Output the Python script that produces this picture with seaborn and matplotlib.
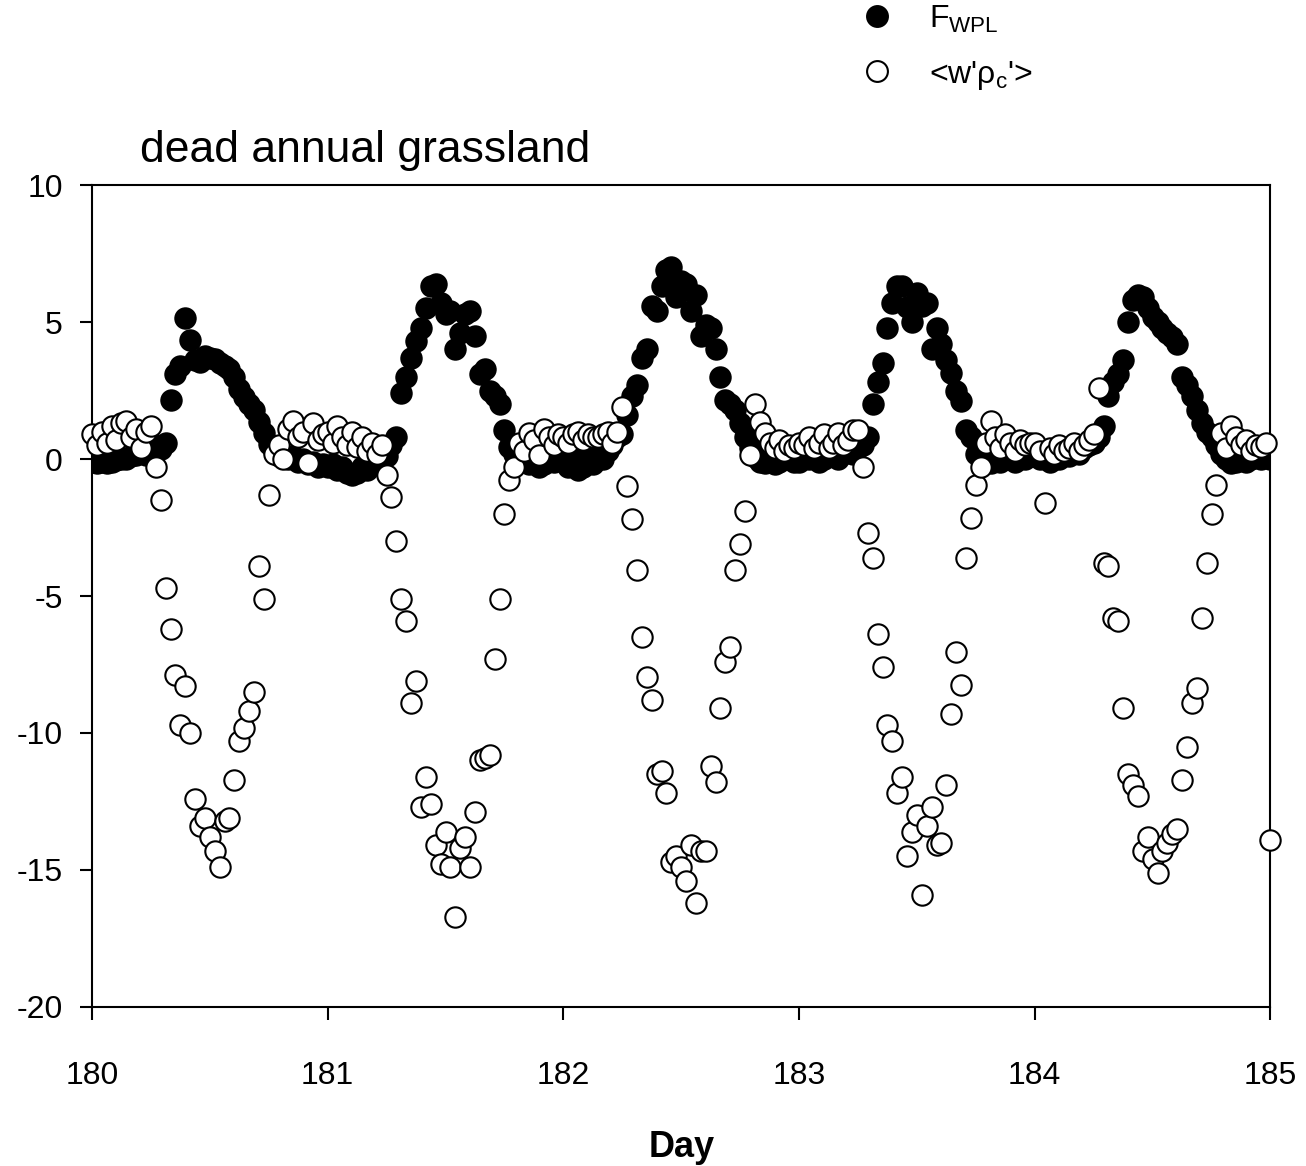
import numpy as np
import pandas as pd
import matplotlib
matplotlib.use("Agg")
import matplotlib.pyplot as plt
from matplotlib.lines import Line2D
import seaborn as sns

# ---- data (half-hourly samples) ----
fwpl_180 = [-0.1, -0.15, -0.1, -0.15, -0.1, -0.05, 0.0, 0.0, 0.1, 0.15, 0.25, 0.15, 0.3, 0.5, 0.35, 0.6,
            2.15, 3.1, 3.4, 5.15, 4.35, 3.6, 3.55, 3.75, 3.7, 3.65, 3.5, 3.4, 3.3, 3.0, 2.55, 2.25,
            2.0, 1.8, 1.35, 0.95, 0.55, 0.3, 0.1, 0.2, 0.0, 0.1, -0.1, 0.0, -0.2, -0.1, -0.3, -0.2]
fwpl_181 = [-0.3, -0.2, -0.4, -0.3, -0.5, -0.6, -0.5, -0.3, -0.4, -0.2, -0.1, 0.2, 0.1, 0.5, 0.8, 2.4,
            3.0, 3.7, 4.3, 4.8, 5.5, 6.3, 6.4, 5.7, 5.3, 5.4, 4.0, 4.6, 5.3, 5.4, 4.5, 3.1,
            3.3, 2.5, 2.3, 2.0, 1.05, 0.45, 0.2, -0.1, 0.0, -0.2, 0.1, -0.3, -0.2, 0.0, -0.1, 0.1]
fwpl_182 = [0.1, -0.3, 0.2, -0.4, -0.3, 0.1, -0.2, 0.2, 0.0, 0.3, 0.5, 0.8, 0.9, 1.6, 2.3, 2.7,
            3.7, 4.0, 5.6, 5.4, 6.3, 6.9, 7.0, 5.9, 6.5, 6.4, 5.4, 6.0, 4.5, 4.9, 4.8, 4.0,
            3.0, 2.15, 2.0, 1.8, 1.3, 0.8, 0.4, 0.07, -0.1, -0.15, 0.0, -0.2, -0.1, 0.0, 0.1, -0.1]
fwpl_183 = [-0.1, 0.1, 0.0, 0.1, -0.1, 0.0, 0.2, 0.1, 0.0, 0.2, 0.3, 0.2, 0.4, 0.5, 0.8, 2.0,
            2.8, 3.5, 4.8, 5.7, 6.3, 6.3, 5.55, 5.0, 6.05, 5.6, 5.7, 4.0, 4.8, 4.2, 3.6, 3.15,
            2.5, 2.1, 1.05, 0.8, 0.2, 0.1, 0.0, -0.15, 0.0, -0.1, 0.1, 0.0, -0.1, 0.1, 0.0, 0.1]
fwpl_184 = [0.1, 0.0, 0.2, -0.1, 0.1, 0.0, 0.2, 0.1, 0.3, 0.2, 0.4, 0.5, 0.6, 0.8, 1.2, 2.3,
            2.8, 3.1, 3.6, 5.0, 5.8, 6.0, 5.9, 5.5, 5.2, 5.0, 4.8, 4.6, 4.45, 4.2, 3.0, 2.7,
            2.3, 1.8, 1.3, 1.0, 0.8, 0.5, 0.2, 0.0, -0.15, -0.1, 0.0, -0.1, 0.0, 0.1, 0.0, 0.1]
fwpl_185 = [0.0]

wrho_180 = [0.9, 0.5, 1.0, 0.6, 1.2, 0.7, 1.3, 1.4, 0.8, 1.1, 0.4, 1.0, 1.2, -0.3, -1.5, -4.7,
            -6.2, -7.9, -9.7, -8.3, -10.0, -12.4, -13.4, -13.1, -13.8, -14.3, -14.9, -13.2, -13.1, -11.7, -10.3, -9.8,
            -9.2, -8.5, -3.9, -5.1, -1.3, 0.2, 0.5, 0.0, 1.1, 1.4, 0.8, 1.0, -0.15, 1.3, 0.7, 0.9]
wrho_181 = [1.0, 0.6, 1.2, 0.8, 0.5, 1.0, 0.45, 0.8, 0.3, 0.6, 0.2, 0.5, -0.6, -1.4, -3.0, -5.1,
            -5.9, -8.9, -8.1, -12.7, -11.6, -12.6, -14.1, -14.8, -13.6, -14.9, -16.7, -14.2, -13.8, -14.9, -12.9, -11.0,
            -10.9, -10.8, -7.3, -5.1, -2.0, -0.77, -0.3, 0.6, 0.3, 0.95, 0.7, 0.15, 1.1, 0.8, 0.5, 0.9]
wrho_182 = [0.8, 0.6, 0.9, 1.0, 0.7, 0.9, 0.8, 0.8, 0.9, 1.0, 0.6, 1.0, 1.9, -1.0, -2.2, -4.05,
            -6.5, -7.95, -8.8, -11.5, -11.4, -12.2, -14.7, -14.5, -14.9, -15.4, -14.1, -16.2, -14.3, -14.3, -11.2, -11.8,
            -9.1, -7.4, -6.85, -4.05, -3.1, -1.9, 0.15, 2.0, 1.35, 0.95, 0.6, 0.4, 0.7, 0.3, 0.5, 0.4]
wrho_183 = [0.6, 0.5, 0.8, 0.4, 0.6, 0.9, 0.4, 0.6, 0.95, 0.5, 0.7, 1.05, 1.05, -0.3, -2.7, -3.6,
            -6.4, -7.6, -9.7, -10.3, -12.2, -11.6, -14.5, -13.6, -13.0, -15.9, -13.4, -12.7, -14.1, -14.0, -11.9, -9.3,
            -7.05, -8.25, -3.6, -2.15, -0.95, -0.3, 0.6, 1.4, 0.8, 0.4, 0.9, 0.6, 0.3, 0.7, 0.5, 0.6]
wrho_184 = [0.6, 0.3, -1.6, 0.4, 0.2, 0.5, 0.3, 0.4, 0.6, 0.3, 0.5, 0.7, 0.9, 2.6, -3.8, -3.9,
            -5.8, -5.9, -9.1, -11.5, -11.9, -12.3, -14.3, -13.8, -14.6, -15.1, -14.3, -14.0, -13.7, -13.5, -11.7, -10.5,
            -8.9, -8.35, -5.8, -3.8, -2.0, -0.95, 0.95, 0.4, 1.2, 0.8, 0.5, 0.7, 0.3, 0.5, 0.45, 0.6]
wrho_185 = [-13.9]

fwpl = fwpl_180 + fwpl_181 + fwpl_182 + fwpl_183 + fwpl_184 + fwpl_185
wrho = wrho_180 + wrho_181 + wrho_182 + wrho_183 + wrho_184 + wrho_185
start_day = 180
samples_per_day = 48
day = start_day + np.arange(len(fwpl)) / samples_per_day

x_ticks = [180, 181, 182, 183, 184, 185]
y_ticks = [-20, -15, -10, -5, 0, 5, 10]
title = "dead annual grassland"
xlabel = "Day"
label_f = r"F$_{\mathrm{WPL}}$"
label_w = r"<w'$\rho_{\mathrm{c}}$'>"

df = pd.DataFrame({"day": day, "fwpl": fwpl, "wrho": wrho})

# ---- style ----
sns.set_theme(style="white")
plt.rcParams["font.family"] = ["Liberation Sans", "DejaVu Sans"]
plt.rcParams["axes.unicode_minus"] = False
plt.rcParams["text.color"] = "black"
plt.rcParams["axes.labelcolor"] = "black"
plt.rcParams["mathtext.fontset"] = "custom"
plt.rcParams["mathtext.rm"] = "Liberation Sans"
plt.rcParams["mathtext.it"] = "Liberation Sans"
plt.rcParams["mathtext.bf"] = "Liberation Sans:bold"

fig = plt.figure(figsize=(13.06, 11.66), dpi=100)
ax = fig.add_axes([0.0704, 0.1364, 0.9024, 0.7049])

sns.scatterplot(data=df, x="day", y="fwpl", ax=ax, s=215, color="black",
                edgecolor="black", linewidth=1.5, zorder=3, legend=False)
sns.scatterplot(data=df, x="day", y="wrho", ax=ax, s=215, color="white",
                edgecolor="black", linewidth=1.5, zorder=4, legend=False, clip_on=False)

ax.set_xlim(180, 185)
ax.set_ylim(-20, 10)
ax.set_xticks(x_ticks)
ax.set_yticks(y_ticks)
ax.set_xticklabels([str(v) for v in x_ticks])
ax.set_yticklabels([str(v) for v in y_ticks])
ax.tick_params(axis="both", which="major", direction="out", length=9, width=1.5,
               labelsize=23, colors="black", bottom=True, left=True, top=False, right=False)
ax.tick_params(axis="x", pad=30)
ax.tick_params(axis="y", pad=12)
for sp in ax.spines.values():
    sp.set_color("black")
    sp.set_linewidth(1.5)
    sp.set_visible(True)
ax.grid(False)
ax.set_xlabel(xlabel, fontsize=26, fontweight="bold", labelpad=28, color="black")
ax.set_ylabel("")

fig.text(0.107, 0.871, title, fontsize=32, ha="left", va="center", color="black")

handles = [
    Line2D([], [], marker="o", linestyle="none", markersize=15, markerfacecolor="black",
           markeredgecolor="black", markeredgewidth=1.5),
    Line2D([], [], marker="o", linestyle="none", markersize=15, markerfacecolor="white",
           markeredgecolor="black", markeredgewidth=1.5),
]
leg = fig.legend(handles, [label_f, label_w], loc="upper left", bbox_to_anchor=(0.659, 0.997),
                 frameon=False, fontsize=23, handlelength=1.0, handletextpad=1.15,
                 labelspacing=0.75, borderaxespad=0, borderpad=0)
for t in leg.get_texts():
    t.set_color("black")

fig.savefig("out.png", dpi=100, facecolor="white")
